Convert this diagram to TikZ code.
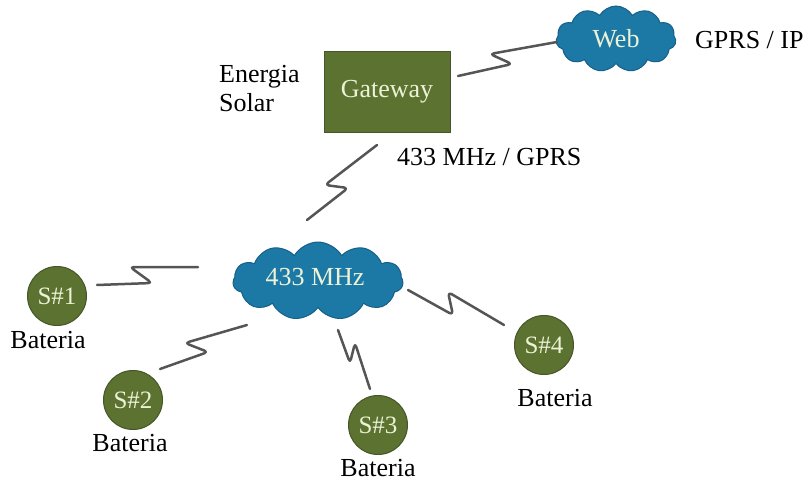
\documentclass[tikz,border=0pt]{standalone}
\usepackage{fontspec}
\setmainfont{Liberation Serif}
\usetikzlibrary{shapes.symbols}
\definecolor{olive}{RGB}{92,114,48}
\definecolor{olivedark}{RGB}{70,86,40}
\definecolor{cloudblue}{RGB}{28,121,166}
\definecolor{clouddark}{RGB}{22,95,135}
\definecolor{cream}{RGB}{236,242,214}
\definecolor{wireg}{RGB}{85,85,85}
\begin{document}
\begin{tikzpicture}[x=1pt,y=-1pt,
  lbl/.style={font=\fontsize{26}{29}\selectfont, text=black, inner sep=0pt},
  gwbox/.style={draw=olivedark, line width=1pt, fill=olive, minimum width=126pt, minimum height=81pt, text=cream, font=\fontsize{26}{29}\selectfont},
  sensor/.style={circle, draw=olivedark, line width=1pt, fill=olive, minimum size=59pt, inner sep=0pt, text=cream, font=\fontsize{25}{29}\selectfont},
  cloudn/.style={cloud, cloud puffs=11, cloud puff arc=120, draw=clouddark, line width=1pt, fill=cloudblue, inner sep=0pt},
  cloudtxt/.style={text=cream, inner sep=0pt, font=\fontsize{26}{29}\selectfont},
  wire/.style={draw=wireg, line width=2.5pt, line cap=round, line join=round, rounded corners=4pt}]
\useasboundingbox (0,0) rectangle (803,482);

\node[gwbox] (gw) at (387,92) {Gateway};
\node[cloudn, minimum width=120pt, minimum height=66pt] (web) at (616,39) {};
\node[cloudtxt] (webt) at (web.center) {Web};
\node[cloudn, minimum width=170pt, minimum height=78pt] (mhz) at (318,281) {};
\node[cloudtxt] (mhzt) at (315,277) {433 MHz};

\node[sensor] (s1) at (57,296) {S\#1};
\node[sensor] (s2) at (133,400) {S\#2};
\node[sensor] (s3) at (378,425) {S\#3};
\node[sensor] (s4) at (544,345) {S\#4};

\node[lbl, anchor=west, align=left] (sol) at (219,89) {Energia\\Solar};
\node[lbl, anchor=west] (ip) at (695,40) {GPRS / IP};
\node[lbl, anchor=west] (gprs) at (397,157) {433 MHz / GPRS};
\node[lbl] (b1) at (48,340) {Bateria};
\node[lbl] (b2) at (130,443) {Bateria};
\node[lbl] (b3) at (378,468) {Bateria};
\node[lbl] (b4) at (555,398) {Bateria};

% connector end points
\coordinate (gwR) at (458,76);
\coordinate (webL) at (557,42);
\coordinate (gwB) at (377,145);
\coordinate (mhzT) at (307,220);
\coordinate (s1R) at (97,285);
\coordinate (mhzL) at (198,267);
\coordinate (s2R) at (160,369);
\coordinate (mhzBL) at (247,325);
\coordinate (s3T) at (370,389);
\coordinate (mhzB) at (338,330);
\coordinate (s4L) at (504,325);
\coordinate (mhzR) at (408,290);

\draw[wire] (gwR) -- (512,64) -- (490,54) -- (webL);
\draw[wire] (gwB) -- (325,185) -- (348,188) -- (mhzT);
\draw[wire] (s1R) -- (152,283) -- (130,267) -- (mhzL);
\draw[wire] (s2R) -- (208,352) -- (185,343) -- (mhzBL);
\draw[wire] (s3T) -- (355,343) -- (350,363) -- (mhzB);
\draw[wire] (s4L) -- (448,292) -- (453,315) -- (mhzR);
\end{tikzpicture}
\end{document}
